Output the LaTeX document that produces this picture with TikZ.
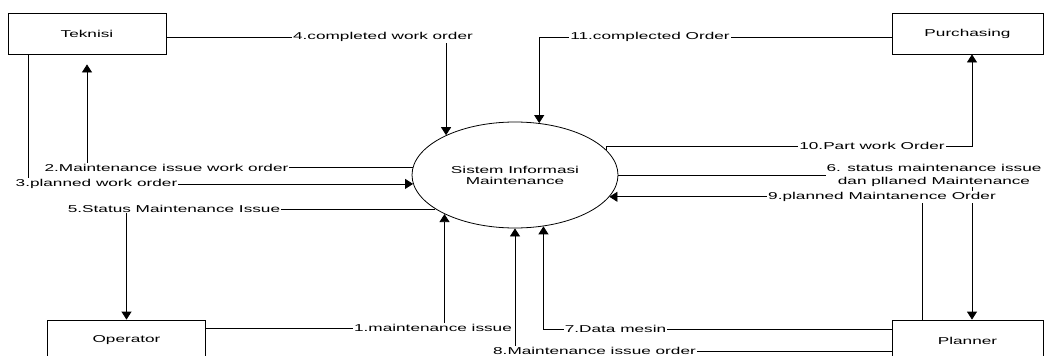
\documentclass[tikz,border=0pt]{standalone}
\usepackage{fontspec}
\setmainfont{Liberation Sans}[FakeStretch=1.72]
\usepackage{tikz}
\usetikzlibrary{shapes.geometric}
\usetikzlibrary{arrows.meta}
\usetikzlibrary{positioning}

\tikzset{
  ent/.style={draw, line width=0.8pt, minimum width=158pt, minimum height=41pt, inner sep=0pt},
  flow/.style={draw, line width=0.8pt, -{Triangle[length=8pt,width=10pt]}},
  lbl/.style={fill=white, inner sep=1pt},
}

\begin{document}
\begin{tikzpicture}[x=1pt,y=-1pt,font=\fontsize{10}{11}\selectfont]
  \useasboundingbox (0,0) rectangle (1044,356);

  % external entities
  \node[ent] (teknisi) at (87,33.5) {Teknisi};
  \node[ent,minimum width=151pt] (purch) at (967.5,33.5) {Purchasing};
  \node[ent] (operator) at (126.5,340.5) {Operator};
  \node[ent,minimum width=151pt] (planner) at (967.5,340.5) {Planner};

  % process
  \node[draw,ellipse,line width=0.8pt,minimum width=206pt,minimum height=106pt,
        inner sep=0pt,align=center] (sim) at (515,175) {Sistem Informasi\\Maintenance};

  % flows
  \draw[flow] ([yshift=12pt]operator.east) -| (sim.209);
  \draw[flow,shorten >=10pt] (sim.176) -| (teknisi.south);
  \draw[flow] ([xshift=-59pt]teknisi.south) |- (sim.185);
  \draw[flow] ([yshift=-4pt]teknisi.east) -| (sim.150);
  \draw[flow] (sim.203) -| (operator.north);
  \draw[flow] (sim.east) -| ([xshift=4.5pt]planner.north);
  \draw[flow] ([yshift=11.5pt]planner.west) -| (sim.299);
  \draw[flow] ([yshift=-10.5pt]planner.west) -| (sim.south);
  \draw[flow] ([xshift=-45.5pt]planner.north) |- (sim.347);
  \draw[flow] (sim.15) |- ([xshift=4.5pt,yshift=-92pt]purch.south) -- ([xshift=4.5pt]purch.south);
  \draw[flow] ([yshift=-4pt]purch.west) -| (sim.65);

  % flow labels
  \node[lbl] (l1) at (433,328) {1.maintenance issue};
  \node[lbl] (l2) at (166.5,168) {2.Maintenance issue work order};
  \node[lbl] (l3) at (96.5,183.5) {3.planned work order};
  \node[lbl] (l4) at (383,37) {4.completed work order};
  \node[lbl] (l5) at (174,208.5) {5.Status Maintenance Issue};
  \node[lbl,align=center] (l6) at (934,175) {6. status maintenance issue\\[2pt]dan pllaned Maintenance};
  \node[lbl] (l7) at (615.5,329) {7.Data mesin};
  \node[lbl] (l8) at (594.5,351) {8.Maintenance issue order};
  \node[lbl] (l9) at (882,197) {9.planned Maintanence Order};
  \node[lbl] (l10) at (872,146) {10.Part work Order};
  \node[lbl] (l11) at (650,37) {11.complected Order};
\end{tikzpicture}
\end{document}
